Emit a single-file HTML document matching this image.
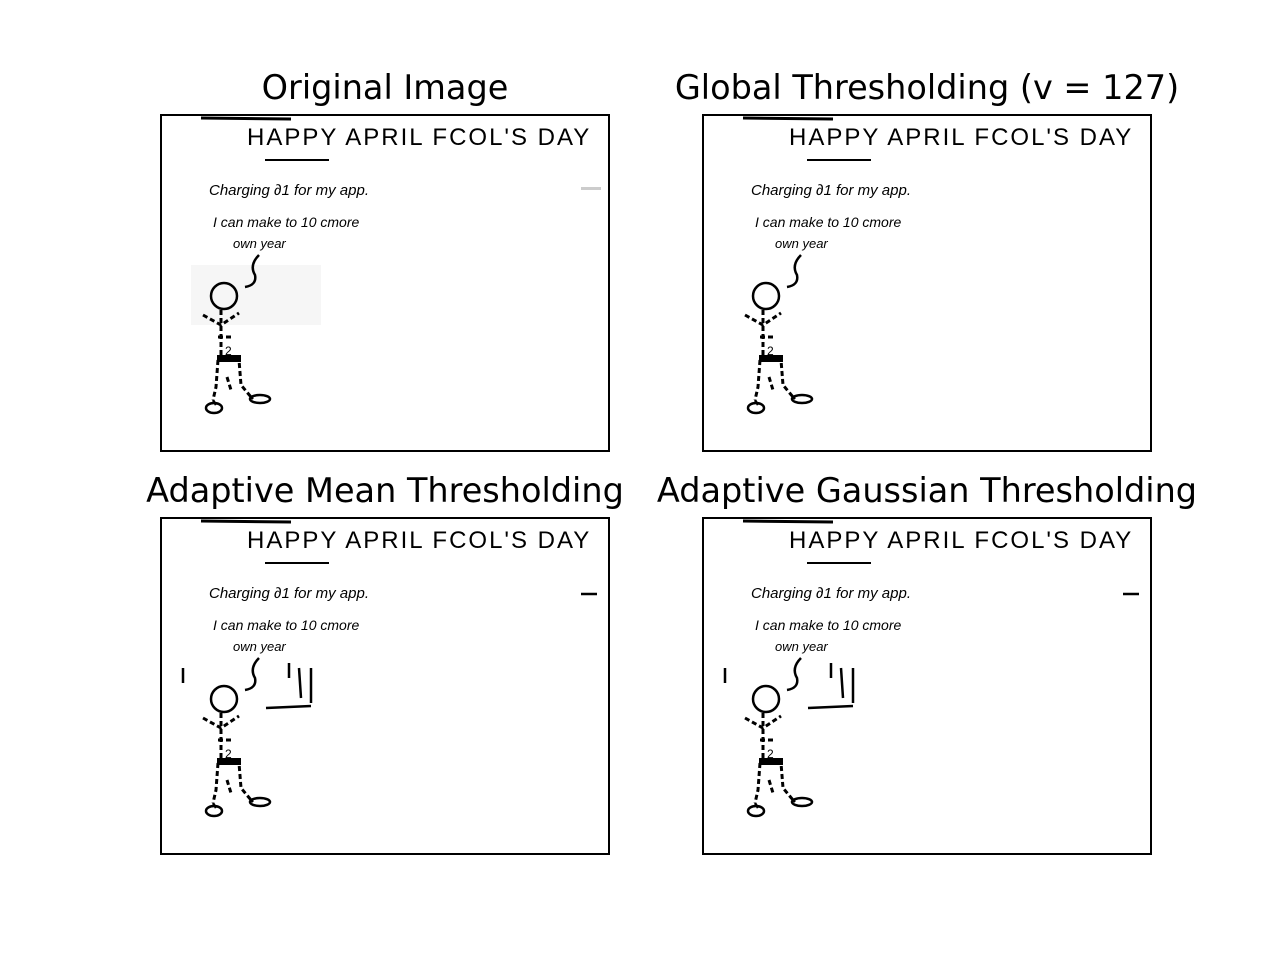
<!DOCTYPE html>
<html><head><meta charset="utf-8"><style>
html,body{margin:0;padding:0;background:#fff;}
svg{display:block;}
.t{font-family:"DejaVu Sans","Liberation Sans",sans-serif;font-size:33.5px;fill:#000;}
.hw{font-family:"Liberation Sans",sans-serif;fill:#000;}
</style></head><body>
<svg id="fig" width="1280" height="960" viewBox="0 0 1280 960">
<rect width="1280" height="960" fill="#fff"/>
<defs>
<g id="doodle">
  <text class="hw" x="86" y="30" font-size="24" letter-spacing="2">HAPPY APRIL FCOL'S DAY</text>
  <line x1="104" y1="45" x2="168" y2="45" stroke="#000" stroke-width="2"/>
  <text class="hw" x="48" y="80" font-size="15" font-style="italic">Charging ∂1 for my app.</text>
  <text class="hw" x="52" y="112" font-size="14" font-style="italic">I can make to 10 cmore</text>
  <text class="hw" x="72" y="133" font-size="13" font-style="italic">own year</text>
  <path d="M98 140 Q88 150 94 160 Q96 170 84 172" fill="none" stroke="#000" stroke-width="2.5"/>
  <circle cx="63" cy="181" r="13" fill="none" stroke="#000" stroke-width="2.5"/>
  <path d="M42 200 L60 210 L78 198 M60 195 L60 240 M57 222 L72 222 M57 245 L78 245 L80 270 L90 282 M57 245 L55 272 L52 285 M66 262 L70 275" fill="none" stroke="#000" stroke-width="3" stroke-dasharray="5 3"/>
  <rect x="56" y="240" width="24" height="7" fill="#000"/>
  <text class="hw" x="64" y="240" font-size="12">2</text>
  <ellipse cx="53" cy="293" rx="8" ry="5" fill="none" stroke="#000" stroke-width="2.5"/>
  <ellipse cx="99" cy="284" rx="10" ry="4" fill="none" stroke="#000" stroke-width="2.5"/>
  <path d="M52 285 L55 290 M90 282 L92 284" stroke="#000" stroke-width="2.5"/>
  <line x1="40" y1="3" x2="130" y2="4" stroke="#000" stroke-width="3"/>
</g>
</defs>

<text class="t" x="385" y="99" text-anchor="middle">Original Image</text>
<text class="t" x="927" y="99" text-anchor="middle">Global Thresholding (v = 127)</text>
<text class="t" x="385" y="502" text-anchor="middle">Adaptive Mean Thresholding</text>
<text class="t" x="927" y="502" text-anchor="middle">Adaptive Gaussian Thresholding</text>

<g transform="translate(161,115)">
  <rect x="30" y="150" width="130" height="60" fill="#f6f6f6"/>
  <rect x="420" y="72" width="20" height="3" fill="#ccc"/>
  <use href="#doodle"/>
  <rect x="0" y="0" width="448" height="336" fill="none" stroke="#000" stroke-width="2"/>
</g>
<g transform="translate(703,115)">
  <use href="#doodle"/>
  <rect x="0" y="0" width="448" height="336" fill="none" stroke="#000" stroke-width="2"/>
</g>
<g transform="translate(161,518)">
  <use href="#doodle"/>
  <path d="M420 76 L436 76 M128 145 L128 160 M138 150 L140 180 M150 150 L150 185 M105 190 L150 188 M22 150 L22 165" stroke="#000" stroke-width="2.5"/>
  <rect x="0" y="0" width="448" height="336" fill="none" stroke="#000" stroke-width="2"/>
</g>
<g transform="translate(703,518)">
  <use href="#doodle"/>
  <path d="M420 76 L436 76 M128 145 L128 160 M138 150 L140 180 M150 150 L150 185 M105 190 L150 188 M22 150 L22 165" stroke="#000" stroke-width="2.5"/>
  <rect x="0" y="0" width="448" height="336" fill="none" stroke="#000" stroke-width="2"/>
</g>
</svg>
</body></html>
